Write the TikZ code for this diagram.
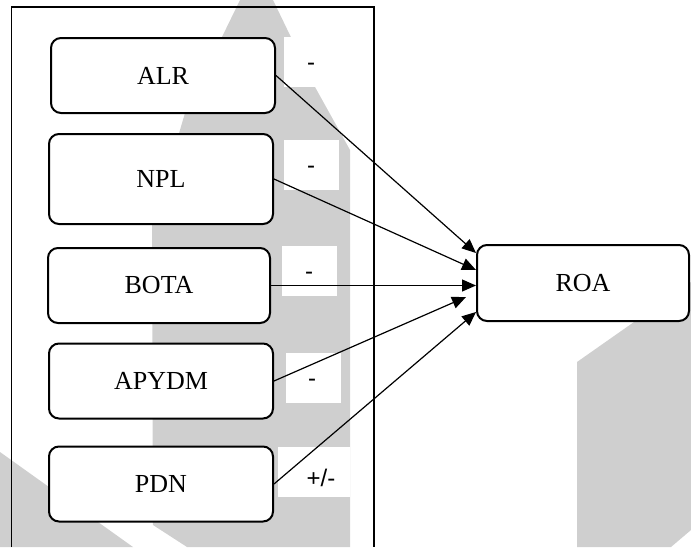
\documentclass[tikz,border=0pt]{standalone}
\usepackage{fontspec}
\setmainfont{Liberation Serif}
\newfontfamily\signfont{Liberation Sans}
\usepackage{tikz}
\usetikzlibrary{arrows.meta, positioning, calc}
\definecolor{WMgray}{HTML}{CFCFCF}

\begin{document}
\begin{tikzpicture}[x=1pt, y=-1pt,
    varbox/.style={draw=black, line width=2pt, rounded corners=10pt,
      fill=white, minimum width=224pt, minimum height=75pt,
      inner sep=0pt, font=\fontsize{26}{30}\selectfont},
    signlabel/.style={inner sep=0pt, font=\signfont\fontsize{24}{28}\selectfont},
    arrowstyle/.style={-{Triangle[length=14pt, width=12pt]}, line width=1.2pt}
  ]
    \useasboundingbox (0,0) rectangle (691,547);

    % watermark in the background
    \fill[WMgray] (240,0) -- (273,0) -- (315,87) -- (350,150) -- (350,547)
      -- (187,547) -- (153,525) -- (152,225) -- (185,113) -- cycle;
    \fill[WMgray] (0,452) -- (133,547) -- (0,547) -- cycle;
    \fill[WMgray] (577,362) -- (691,282) -- (691,530) -- (671,547)
      -- (577,547) -- cycle;

    % white boxes behind the signs
    \fill[white] (284,37) rectangle (340,87);
    \fill[white] (284,140) rectangle (339,190);
    \fill[white] (282,246) rectangle (337,296);
    \fill[white] (286,353) rectangle (341,403);
    \fill[white] (278,447) rectangle (350,497);

    % frame round the independent variables
    \draw[line width=1.2pt] (11.5,547) -- (11.5,7) -- (374,7) -- (374,547);

    \node[varbox] (ALR) at (163,75.5) {ALR};
    \node[varbox, minimum height=90pt] (NPL) at (161,179) {NPL};
    \node[varbox, minimum width=222pt] (BOTA) at (159,285.5) {BOTA};
    \node[varbox] (APYDM) at (161,381) {APYDM};
    \node[varbox] (PDN) at (161,484) {PDN};
    \node[varbox, minimum width=212pt, minimum height=76pt] (ROA) at (583,283) {ROA};

    \node[signlabel] (sALR) at (311,67) {-};
    \node[signlabel] (sNPL) at (311,170) {-};
    \node[signlabel] (sBOTA) at (309,276) {-};
    \node[signlabel] (sAPYDM) at (312,383) {-};
    \node[signlabel] (sPDN) at (321,478) {+/-};

    \draw[arrowstyle] (ALR.east) -- ([yshift=30pt]ROA.west);
    \draw[arrowstyle] (NPL.east) -- ([yshift=13pt]ROA.west);
    \draw[arrowstyle] (BOTA.east) -- (BOTA.east -| ROA.west);
    \draw[arrowstyle] (APYDM.east) -- ([xshift=-10pt, yshift=-14pt]ROA.west);
    \draw[arrowstyle] (PDN.east) -- ([yshift=-29pt]ROA.west);
\end{tikzpicture}
\end{document}
